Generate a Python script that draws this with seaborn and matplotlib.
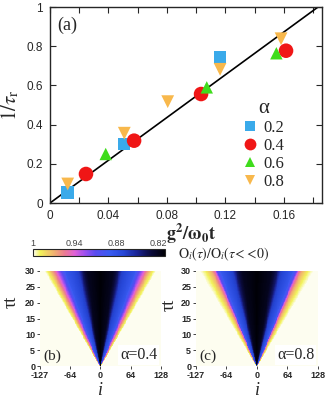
import numpy as np
import pandas as pd
import matplotlib
matplotlib.use("Agg")
import matplotlib.pyplot as plt
from matplotlib.colors import LinearSegmentedColormap, Normalize
from matplotlib.lines import Line2D
import seaborn as sns

# ---- data (a): relaxation rate vs g^2/w0 t
alpha_labels = ["0.2", "0.4", "0.6", "0.8"]
x_a02 = [0.0121, 0.0508, 0.1163]
y_a02 = [0.053, 0.301, 0.743]
x_a04 = [0.0246, 0.0575, 0.1033, 0.1614]
y_a04 = [0.148, 0.318, 0.556, 0.777]
x_a06 = [0.0381, 0.1072, 0.1548]
y_a06 = [0.250, 0.590, 0.764]
x_a08 = [0.0121, 0.0508, 0.0805, 0.1163, 0.1580]
y_a08 = [0.097, 0.356, 0.517, 0.682, 0.838]
fit_x = [0.0, 0.1833]
fit_y = [0.0, 1.0]

x_ticks_a = [0, 0.04, 0.08, 0.12, 0.16]
y_ticks_a = [0, 0.2, 0.4, 0.6, 0.8, 1]

# ---- data (b), (c): light-cone profile vs speed |i|/t
site_i = np.arange(-127, 129)
time_t = np.arange(0, 30.01, 0.25)
speed_b = [0, 0.9, 1.25, 1.5, 2.4, 2.7, 3.0, 3.25, 3.55, 3.85]
level_b = [0.81, 0.82, 0.84, 0.865, 0.885, 0.91, 0.94, 0.962, 0.985, 1.0]
speed_c = [0, 1.0, 1.4, 1.65, 2.45, 2.7, 2.85, 3.1, 3.5, 3.9]
level_c = [0.81, 0.82, 0.84, 0.865, 0.885, 0.91, 0.945, 0.97, 0.99, 1.0]

i_ticks = [-127, -64, 0, 64, 128]
t_ticks = [0, 5, 10, 15, 20, 25, 30]
cbar_ticks = [1, 0.94, 0.88, 0.82]

# colormap of the colorbar
cmap_levels = [0.81, 0.83, 0.85, 0.87, 0.89, 0.91, 0.925, 0.94, 0.955, 0.97, 0.99, 1.0]
cmap_colors = ['#000006', '#0a0a3a', '#1a2394', '#2647d8', '#3a5cf2', '#5a4cf0',
               '#9a50f0', '#e060d8', '#ec7c90', '#f0b070', '#f2f25a', '#fdfdf0']
vmin, vmax = 0.81, 1.0
cmap = LinearSegmentedColormap.from_list(
    "cone", [((v - vmin) / (vmax - vmin), c) for v, c in zip(cmap_levels, cmap_colors)])

sns.set_theme(style="ticks")
plt.rcParams['font.family'] = ['Liberation Sans', 'DejaVu Sans']
plt.rcParams['mathtext.fontset'] = 'stix'
SERIF = ['Liberation Serif', 'DejaVu Serif']

W, H = 332, 399
fig = plt.figure(figsize=(W / 100, H / 100), dpi=100)

def rect(l, t, r, b):
    return [l / W, 1 - b / H, (r - l) / W, (b - t) / H]

# ---------------- panel (a)
ax = fig.add_axes(rect(50, 7, 322, 203))
df = pd.concat([
    pd.DataFrame({'x': xs, 'y': ys, 'alpha': lab})
    for xs, ys, lab in zip([x_a02, x_a04, x_a06, x_a08],
                           [y_a02, y_a04, y_a06, y_a08], alpha_labels)
])
palette = {'0.2': '#3aaaea', '0.4': '#f01616', '0.6': '#3fdc1c', '0.8': '#f8b84c'}
markers = {'0.2': 's', '0.4': 'o', '0.6': '^', '0.8': 'v'}
sizes = {'0.2': 80, '0.4': 110, '0.6': 80, '0.8': 85}
ax.plot(fit_x, fit_y, color='black', lw=1.2, zorder=1)
for lab in alpha_labels:
    sub = df[df['alpha'] == lab]
    sns.scatterplot(data=sub, x='x', y='y', color=palette[lab], marker=markers[lab],
                    s=sizes[lab], edgecolor='none', ax=ax, zorder=3, legend=False)
ax.set_xlim(0, 0.186)
ax.set_ylim(0, 1)
ax.set_xticks(x_ticks_a)
ax.set_xticklabels(['0', '0.04', '0.08', '0.12', '0.16'])
ax.set_xticks(np.arange(0.02, 0.186, 0.04), minor=True)
ax.set_yticks(y_ticks_a)
ax.set_yticklabels(['0', '0.2', '0.4', '0.6', '0.8', '1'])
ax.tick_params(direction='in', top=True, right=True, length=4, width=0.8,
               labelsize=8.5, pad=5)
ax.tick_params(which='minor', direction='in', top=True, length=4, width=0.8)
for s in ax.spines.values():
    s.set_linewidth(1.0)
ax.set_xlabel(r'$\mathbf{g^2/\omega_0 t}$', fontsize=13)
ax.xaxis.set_label_coords(0.52, -0.095)
ax.set_ylabel(r'$1/\tau_{\rm r}$', fontsize=15)
ax.yaxis.set_label_coords(-0.108, 0.5)
ax.text(0.025, 0.95, '(a)', transform=ax.transAxes, fontsize=13, family=SERIF,
        ha='left', va='top')

handles = [Line2D([], [], ls='none', marker=markers[l], color=palette[l],
                  markersize=8.5 if l == '0.4' else 7.5, markeredgewidth=0)
           for l in alpha_labels]
leg = ax.legend(handles, alpha_labels, title='α', frameon=False,
                loc='upper left', bbox_to_anchor=(236 / W, 1 - 92 / H),
                bbox_transform=fig.transFigure, handlelength=0.9,
                handletextpad=0.35, labelspacing=0.12, borderaxespad=0,
                prop={'family': SERIF, 'size': 12})
leg.get_title().set_fontfamily(SERIF)
leg.get_title().set_fontsize(15)

# ---------------- colorbar
cax = fig.add_axes(rect(33, 249, 165, 256))
sm = plt.cm.ScalarMappable(norm=Normalize(vmin, vmax), cmap=cmap)
cb = fig.colorbar(sm, cax=cax, orientation='horizontal')
cax.invert_xaxis()
cb.set_ticks(cbar_ticks)
cb.set_ticklabels(['1', '0.94', '0.88', '0.82'])
cax.xaxis.set_ticks_position('top')
cax.xaxis.set_label_position('top')
cax.set_xticks(np.arange(0.82, 1.0, 0.02), minor=True)
cax.tick_params(axis='x', which='major', length=0, labelsize=6.5, pad=1,
                labelcolor='#444444')
cax.tick_params(axis='x', which='minor', direction='in', length=2, color='#222222')
cb.outline.set_linewidth(0.8)
fig.text(178 / W, 1 - 254 / H, r'$\mathrm{O}_{i}(\tau)/\mathrm{O}_{i}(\tau\!<\!<\!0)$',
         fontsize=10, va='center', ha='left')

# ---------------- panels (b), (c)
def cone_panel(axh, speed, level, tag, alpha_txt, ylab_x, ylab_y):
    uu = np.abs(site_i)[None, :] / (time_t[:, None] + 0.6)
    field = np.interp(uu, speed, level)
    frame = pd.DataFrame(field, index=time_t, columns=site_i)
    sns.heatmap(frame, ax=axh, cmap=cmap, vmin=vmin, vmax=vmax, cbar=False,
                xticklabels=False, yticklabels=False, rasterized=True)
    axh.invert_yaxis()
    ncol, nrow = len(site_i), len(time_t)
    axh.set_xticks([(v + 127) / 255 * ncol for v in i_ticks])
    axh.set_xticklabels([str(v) for v in i_ticks], rotation=0)
    axh.set_yticks([t / 30 * nrow for t in t_ticks])
    axh.set_yticklabels([str(t) for t in t_ticks], rotation=0)
    axh.tick_params(length=2, width=0.6, labelsize=6.5, pad=1.5)
    for lbl in axh.get_xticklabels() + axh.get_yticklabels():
        lbl.set_fontweight('bold')
    axh.set_xlabel('i', fontsize=13, family=SERIF, style='italic')
    axh.xaxis.set_label_coords(0.5, -0.17)
    axh.set_ylabel('τt', fontsize=13, family=SERIF)
    axh.yaxis.set_label_coords(ylab_x, ylab_y)
    axh.text(0.03, 0.03, tag, transform=axh.transAxes, fontsize=11,
             family=SERIF, ha='left', va='bottom')
    axh.text(0.97, 0.03, alpha_txt, transform=axh.transAxes, fontsize=11.5,
             family=SERIF, ha='right', va='bottom',
             bbox=dict(facecolor='white', edgecolor='none', pad=1.5))

ax_b = fig.add_axes(rect(40, 271, 161, 366))
cone_panel(ax_b, speed_b, level_b, '(b)', 'α=0.4', -0.165, 0.68)
ax_c = fig.add_axes(rect(196, 271, 318, 366))
cone_panel(ax_c, speed_c, level_c, '(c)', 'α=0.8', -0.15, 0.64)

fig.savefig("out.png", dpi=100)
